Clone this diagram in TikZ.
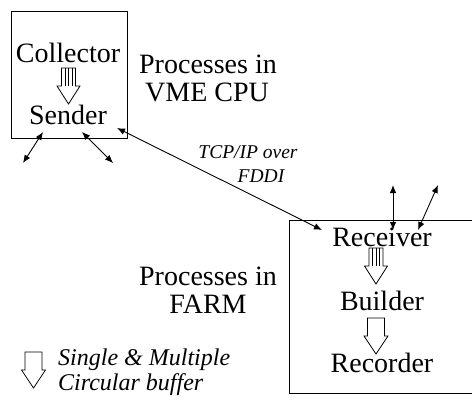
\documentclass[tikz,border=0pt]{standalone}
\usepackage{fontspec}
\setmainfont{Liberation Serif}
\usetikzlibrary{arrows.meta}
\begin{document}
\begin{tikzpicture}[x=1pt,y=-1pt,
  frame/.style={draw, line width=1pt, inner sep=0pt},
  link/.style={line width=0.9pt,
    {Latex[length=8pt,width=6.5pt]}-{Latex[length=8pt,width=6.5pt]}},
  proc/.style={font=\fontsize{28}{30}\selectfont, anchor=base, inner sep=0pt},
  note/.style={font=\fontsize{19.5}{22}\selectfont\itshape, anchor=base, inner sep=0pt},
  legend/.style={font=\fontsize{24}{26}\selectfont\itshape, anchor=base west, inner sep=0pt},
  bufline/.style={draw, line width=0.8pt, fill=white, line join=miter},
  % hollow arrow with inner strokes: multiple circular buffer
  multibuf/.pic={
    \path[bufline] (-7,0) -- (7,0) -- (7,18) -- (11.5,18) -- (0,36)
      -- (-11.5,18) -- (-7,18) -- cycle;
    \draw[line width=0.7pt] (-3.5,0) -- (-3.5,18) (0,0) -- (0,18) (3.5,0) -- (3.5,18);
  },
  % plain hollow arrow: single circular buffer
  singlebuf/.pic={
    \path[bufline] (-8.5,0) -- (8.5,0) -- (8.5,18) -- (12,18) -- (0,36)
      -- (-12,18) -- (-8.5,18) -- cycle;
  }]
\useasboundingbox (0,0) rectangle (472,402);
\clip (0,0) rectangle (472,402);

% process boxes
\node[frame, minimum width=116pt, minimum height=127pt] (cpu) at (69,74.5) {};
\node[frame, minimum width=191pt, minimum height=173pt] (farm) at (384.5,306.5) {};

% VME CPU processes
\node[proc] (collector) at (68,62) {Collector};
\node[proc] (sender) at (68,124) {Sender};
\pic at (68.5,68) {multibuf};

\node[proc] (vmeA) at (208,73) {Processes in};
\node[proc] (vmeB) at (207,101) {VME CPU};

% FARM processes
\node[proc] (receiver) at (382,246) {Receiver};
\node[proc] (builder) at (382,310) {Builder};
\node[proc] (recorder) at (382,372) {Recorder};
\pic at (376,248) {multibuf};
\pic at (376,318) {singlebuf};

\node[proc] (farmA) at (208,285) {Processes in};
\node[proc] (farmB) at (208,313) {FARM};

% network link
\node[note] (tcpA) at (248,158) {TCP/IP over};
\node[note] (tcpB) at (261,182) {FDDI};
\coordinate (sendEnd) at (117,128);
\coordinate (recvEnd) at (322,230);
\draw[link] (sendEnd) -- (recvEnd);

% external links of Sender
\coordinate (sl0) at (43,132);
\coordinate (sl1) at (23,163);
\coordinate (sr0) at (82,132);
\coordinate (sr1) at (113,163);
\draw[link] (sl0) -- (sl1);
\draw[link] (sr0) -- (sr1);

% external links of Receiver
\coordinate (rv0) at (393,230);
\coordinate (rv1) at (393,185);
\coordinate (rd0) at (418,230);
\coordinate (rd1) at (438,185);
\draw[link] (rv0) -- (rv1);
\draw[link] (rd0) -- (rd1);

% legend
\pic at (33.5,352) {singlebuf};
\node[legend] (legA) at (58,365) {Single \& Multiple};
\node[legend] (legB) at (58,390) {Circular buffer};
\end{tikzpicture}
\end{document}
